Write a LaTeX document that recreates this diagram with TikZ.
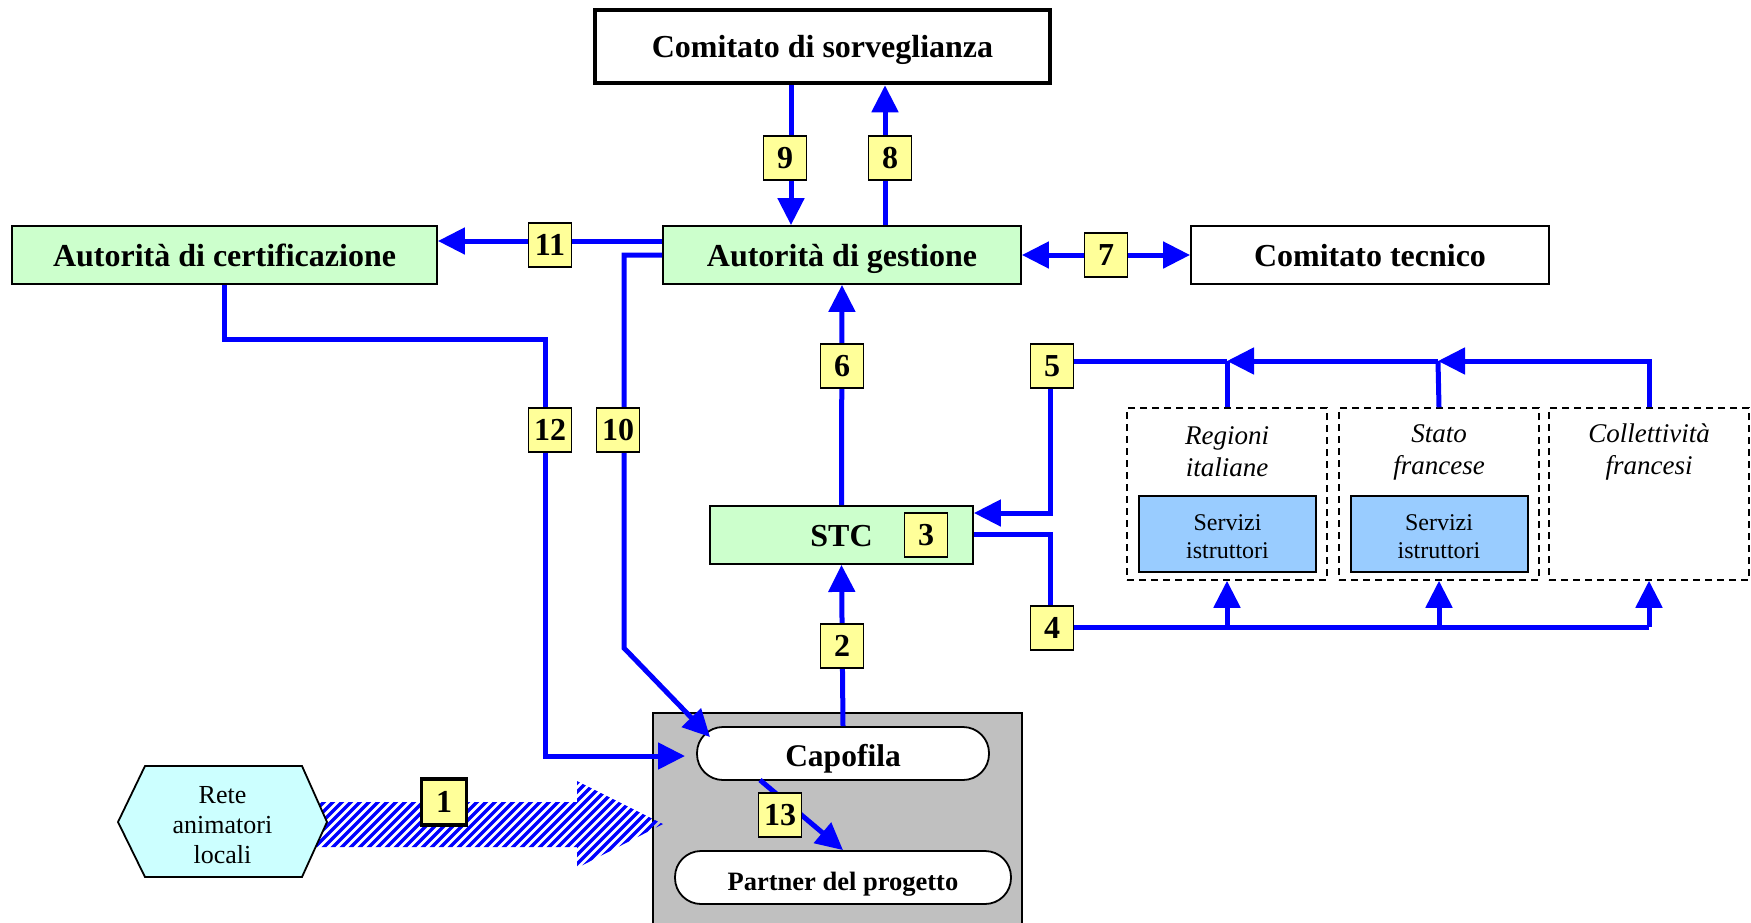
\documentclass[tikz,border=0pt]{standalone}
\usepackage{fontspec}
\setmainfont{Liberation Serif}
\usetikzlibrary{arrows.meta,calc}
\definecolor{lgreen}{HTML}{CCFFCC}
\definecolor{lyellow}{HTML}{FFFF99}
\definecolor{lcyan}{HTML}{CCFFFF}
\definecolor{lblue}{HTML}{99CCFF}
\definecolor{lgrey}{HTML}{C0C0C0}
\definecolor{lineblue}{HTML}{0000FF}
\begin{document}
\begin{tikzpicture}[x=1pt,y=-1pt,
  box/.style={draw, line width=1.8pt, inner sep=0pt, text height=23pt, text depth=0pt, font=\fontsize{32}{38}\selectfont\bfseries},
  gbox/.style={box, fill=lgreen},
  wbox/.style={box, fill=white},
  num/.style={draw, line width=1.6pt, fill=lyellow, minimum width=43pt, minimum height=44pt, inner sep=0pt, text height=21.6pt, text depth=0pt, font=\fontsize{32}{38}\selectfont\bfseries},
  pill/.style={draw, line width=1.8pt, fill=white, rounded corners=26pt, inner sep=0pt, text depth=0pt},
  dbox/.style={draw, line width=1.5pt, dash pattern=on 7pt off 5pt, minimum width=200pt, minimum height=172pt, inner sep=0pt},
  sbox/.style={draw, line width=2pt, fill=lblue, minimum width=177pt, minimum height=76pt, inner sep=0pt},
  stext/.style={align=center, inner sep=0pt, font=\fontsize{24}{28}\selectfont},
  ital/.style={align=center, inner sep=0pt, font=\fontsize{27}{32}\selectfont\itshape},
  ln/.style={draw=lineblue, line width=5pt},
  arr/.style={ln, -{Triangle[length=27pt,width=26pt]}},
  darr/.style={ln, {Triangle[length=27pt,width=26pt]}-{Triangle[length=27pt,width=26pt]}},
]
\useasboundingbox (0,0) rectangle (1751,922);

% grey group box
\node[draw, line width=2pt, fill=lgrey, minimum width=369pt, minimum height=230pt, inner sep=0pt] (grp) at (837.5,828) {};

% main boxes
\node[wbox, line width=4.5pt, minimum width=455pt, minimum height=73pt, text height=21.5pt] (cs) at (822.5,46.5) {Comitato di sorveglianza};
\node[gbox, minimum width=358pt, minimum height=58pt] (adg) at (842,255) {Autorità di gestione};
\node[gbox, minimum width=425pt, minimum height=58pt] (adc) at (224.5,255) {Autorità di certificazione};
\node[wbox, minimum width=358pt, minimum height=58pt] (ct) at (1370,255) {Comitato tecnico};
\node[gbox, minimum width=263pt, minimum height=58pt, text height=22pt] (stc) at (841.5,535) {STC};

% capofila and partner
\node[pill, minimum width=292pt, minimum height=53pt, text height=25.5pt, font=\fontsize{31.5}{38}\selectfont\bfseries] (capo) at (843,753.5) {Capofila};
\node[pill, minimum width=336pt, minimum height=53pt, text height=25pt, font=\fontsize{26.5}{32}\selectfont\bfseries] (partner) at (843,877.5) {Partner del progetto};

% dashed groups
\node[dbox] (d1) at (1227,494) {};
\node[dbox] (d2) at (1439,494) {};
\node[dbox] (d3) at (1649,494) {};
\node[ital] (t1) at (1227,452) {Regioni\\italiane};
\node[ital] (t2) at (1439,452) {Stato\\francese};
\node[ital] (t3) at (1649,452) {Collettività\\francesi};
\node[sbox] (s1) at (1227.5,534) {};
\node[sbox] (s2) at (1439,534) {};
\node[stext] (s1t) at (1227.5,537) {Servizi\\istruttori};
\node[stext] (s2t) at (1439,537) {Servizi\\istruttori};

% hatched arrow 1
\coordinate (h1tip) at (663,824);
\begin{scope}
  \clip (316,802) -- (577,802) -- (577,781) -- (h1tip) -- (577,868) -- (577,847) -- (316,847) -- cycle;
  \foreach \i in {0,...,60} {
    \draw[lineblue, line width=3.3pt] (200+\i*9,890) -- ++(120,-120);
  }
\end{scope}

% hexagon
\coordinate (rc) at (222.5,822);
\draw[line width=1.8pt, fill=lcyan] ($(rc)+(-104.5,0)$) -- ($(rc)+(-77.5,-56)$) -- ($(rc)+(79.5,-56)$) -- ($(rc)+(104.5,0)$) -- ($(rc)+(79.5,55)$) -- ($(rc)+(-77.5,55)$) -- cycle;
\node[align=center, inner sep=0pt, font=\fontsize{26}{30}\selectfont] (rete) at (222.5,825) {Rete\\animatori\\locali};

% connectors
\coordinate (x9) at (791,0);
\coordinate (x8) at (885,0);
\draw[arr] (cs.south -| x9) -- (adg.north -| x9);
\draw[arr] (adg.north -| x8) -- (cs.south -| x8);
\draw[arr] ([yshift=14pt]adg.west) -- ([yshift=14pt]adg.west -| adc.east);
\coordinate (p10) at (624,648);
\coordinate (c10) at (710,737);
\draw[arr] (adg.west) -| (p10) -- (c10);
\coordinate (p12) at (545,339);
\coordinate (c12) at (685,756);
\draw[arr] (adc.south) |- (p12) -- (p12 |- c12) -- (c12);
\draw[arr] (stc.north) -- (adg.south);
\draw[arr] (capo.north) -- (stc.south);
\draw[darr] (adg.east) -- (ct.west);
\coordinate (c13) at (760,780);
\draw[arr] (c13) -- (partner.north);

% line 5
\coordinate (j1) at (1227,361);
\coordinate (j2) at (1438,361);
\coordinate (x5) at (1050,0);
\draw[ln] (d1.north) -- (j1);
\draw[ln] (d2.north) -- (j2);
\draw[arr] (d3.north) |- (j2);
\draw[arr] (j2) -- (j1);
\draw[arr] (j1) -| ([yshift=22pt]stc.east -| x5) -- ([yshift=22pt]stc.east);

% line 4
\coordinate (k0) at (1050,627);
\draw[ln] ([yshift=1pt]stc.east) -| (k0) -- (d3.south |- k0);
\draw[arr] (d1.south |- k0) -- (d1.south);
\draw[arr] (d2.south |- k0) -- (d2.south);
\draw[arr] (d3.south |- k0) -- (d3.south);

% number labels
\node[num, line width=3.5pt, minimum width=45pt, minimum height=46pt] (L1) at (444,802) {1};
\node[num] (L2) at (842,646) {2};
\node[num] (L3) at (926,535) {3};
\node[num] (L4) at (1052,628) {4};
\node[num] (L5) at (1052,366) {5};
\node[num] (L6) at (842,366) {6};
\node[num] (L7) at (1106,255) {7};
\node[num] (L8) at (890,158) {8};
\node[num] (L9) at (785,158) {9};
\node[num] (L10) at (618,430) {10};
\node[num] (L11) at (550,245) {11};
\node[num] (L12) at (550,430) {12};
\node[num] (L13) at (780,815) {13};
\end{tikzpicture}
\end{document}
